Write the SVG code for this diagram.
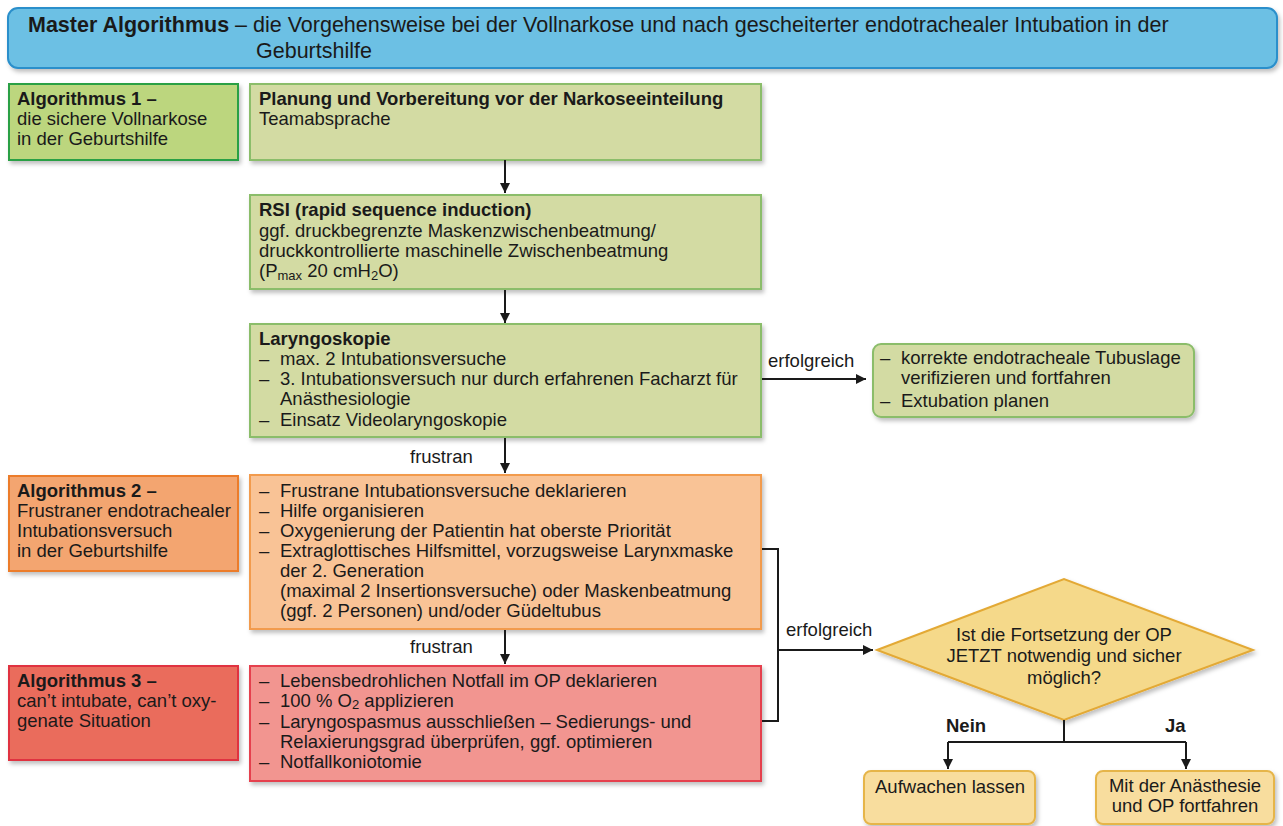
<svg xmlns="http://www.w3.org/2000/svg" width="1283" height="826" viewBox="0 0 1283 826">
<defs>
<filter id="sh" x="-5%" y="-5%" width="110%" height="120%">
<feDropShadow dx="2" dy="3" stdDeviation="2" flood-color="#000" flood-opacity="0.25"/>
</filter>
<marker id="ah" viewBox="0 0 10 10" refX="10" refY="5" markerWidth="10" markerHeight="10" markerUnits="userSpaceOnUse" orient="auto">
<path d="M0,0 L10,5 L0,10 z" fill="#1a1a1a"/>
</marker>
</defs>
<style>
text{font-family:"Liberation Sans",Arial,sans-serif;font-size:18.5px;fill:#1a1a1a}
.b{font-weight:bold}
.t{font-size:21.5px}
.c{text-anchor:middle}
.box{filter:url(#sh);stroke-width:2}
.title{fill:#6cc0e4;stroke:#2b8fcb}
.g1{fill:#bcd67e;stroke:#2aa044}
.g2{fill:#d3dba3;stroke:#8bbd6b}
.o1{fill:#f3a56f;stroke:#ec7b2c}
.o2{fill:#f9c396;stroke:#f29b4d}
.r1{fill:#ea6c5c;stroke:#e03040}
.r2{fill:#f29590;stroke:#e5404e}
.y1{fill:#f5d98a;stroke:#e3a935}
.y2{fill:#f8dd9e;stroke:#e6b54a}
.ln{fill:none;stroke:#1a1a1a;stroke-width:2}
.sub{font-size:13px}
</style>

<g id="title">
<rect class="box title" x="8" y="8" width="1269" height="60" rx="10"/>
<text class="t" x="28" y="32"><tspan class="b">Master Algorithmus</tspan> – die Vorgehensweise bei der Vollnarkose und nach gescheiterter endotrachealer Intubation in der</text>
<text class="t" x="256" y="58">Geburtshilfe</text>
</g>

<g id="alg1">
<rect class="box g1" x="9" y="84" width="229" height="76"/>
<text x="17" y="105" class="b">Algorithmus 1 –</text>
<text x="17" y="125">die sichere Vollnarkose</text>
<text x="17" y="145">in der Geburtshilfe</text>
</g>

<g id="planung">
<rect class="box g2" x="250" y="84" width="511" height="76"/>
<text x="259" y="105" class="b">Planung und Vorbereitung vor der Narkoseeinteilung</text>
<text x="259" y="125">Teamabsprache</text>
</g>

<g id="rsi">
<rect class="box g2" x="250" y="195" width="511" height="94"/>
<text x="259" y="216" class="b">RSI (rapid sequence induction)</text>
<text x="259" y="237">ggf. druckbegrenzte Maskenzwischenbeatmung/</text>
<text x="259" y="257">druckkontrollierte maschinelle Zwischenbeatmung</text>
<text x="259" y="277">(P<tspan class="sub" dy="3">max</tspan><tspan dy="-3"> 20 cmH</tspan><tspan class="sub" dy="3">2</tspan><tspan dy="-3">O)</tspan></text>
</g>

<g id="laryngoskopie">
<rect class="box g2" x="250" y="324" width="511" height="113"/>
<text x="259" y="345" class="b">Laryngoskopie</text>
<text x="259" y="365">–</text><text x="280" y="365">max. 2 Intubationsversuche</text>
<text x="259" y="385">–</text><text x="280" y="385">3. Intubationsversuch nur durch erfahrenen Facharzt für</text>
<text x="280" y="405">Anästhesiologie</text>
<text x="259" y="426">–</text><text x="280" y="426">Einsatz Videolaryngoskopie</text>
</g>

<g id="erfolg1">
<rect class="box g2" x="873" y="344" width="321" height="73" rx="8"/>
<text x="880" y="364">–</text><text x="901" y="364">korrekte endotracheale Tubuslage</text>
<text x="901" y="384">verifizieren und fortfahren</text>
<text x="880" y="407">–</text><text x="901" y="407">Extubation planen</text>
</g>

<g id="alg2">
<rect class="box o1" x="9" y="476" width="229" height="95"/>
<text x="17" y="497" class="b">Algorithmus 2 –</text>
<text x="17" y="517">Frustraner endotrachealer</text>
<text x="17" y="537">Intubationsversuch</text>
<text x="17" y="557">in der Geburtshilfe</text>
</g>

<g id="frustran1">
<rect class="box o2" x="250" y="475" width="511" height="154"/>
<text x="259" y="497">–</text><text x="280" y="497">Frustrane Intubationsversuche deklarieren</text>
<text x="259" y="517">–</text><text x="280" y="517">Hilfe organisieren</text>
<text x="259" y="537">–</text><text x="280" y="537">Oxygenierung der Patientin hat oberste Priorität</text>
<text x="259" y="557">–</text><text x="280" y="557">Extraglottisches Hilfsmittel, vorzugsweise Larynxmaske</text>
<text x="280" y="577">der 2. Generation</text>
<text x="280" y="597">(maximal 2 Insertionsversuche) oder Maskenbeatmung</text>
<text x="280" y="617">(ggf. 2 Personen) und/oder Güdeltubus</text>
</g>

<g id="alg3">
<rect class="box r1" x="9" y="666" width="229" height="94"/>
<text x="17" y="687" class="b">Algorithmus 3 –</text>
<text x="17" y="707">can’t intubate, can’t oxy-</text>
<text x="17" y="727">genate Situation</text>
</g>

<g id="notfall">
<rect class="box r2" x="250" y="666" width="511" height="115"/>
<text x="259" y="687">–</text><text x="280" y="687">Lebensbedrohlichen Notfall im OP deklarieren</text>
<text x="259" y="707">–</text><text x="280" y="707">100 % O<tspan class="sub" dy="2">2</tspan><tspan dy="-2"> applizieren</tspan></text>
<text x="259" y="728">–</text><text x="280" y="728">Laryngospasmus ausschließen – Sedierungs- und</text>
<text x="280" y="748">Relaxierungsgrad überprüfen, ggf. optimieren</text>
<text x="259" y="768">–</text><text x="280" y="768">Notfallkoniotomie</text>
</g>

<g id="entscheidung">
<polygon class="box y1" points="877,650 1064,579 1253,650 1064,720"/>
<text class="c" x="1064" y="641">Ist die Fortsetzung der OP</text>
<text class="c" x="1064" y="662">JETZT notwendig und sicher</text>
<text class="c" x="1064" y="684">möglich?</text>
</g>

<g id="aufwachen">
<rect class="box y2" x="864" y="771" width="171" height="53" rx="7"/>
<text x="875" y="793">Aufwachen lassen</text>
</g>

<g id="fortfahren">
<rect class="box y2" x="1096" y="771" width="178" height="53" rx="7"/>
<text class="c" x="1185" y="792">Mit der Anästhesie</text>
<text class="c" x="1185" y="812">und OP fortfahren</text>
</g>

<g id="connectors">
<line class="ln" x1="505" y1="160" x2="505" y2="193" marker-end="url(#ah)"/>
<line class="ln" x1="505" y1="290" x2="505" y2="323" marker-end="url(#ah)"/>
<line class="ln" x1="505" y1="438" x2="505" y2="473" marker-end="url(#ah)"/>
<text x="410" y="463">frustran</text>
<line class="ln" x1="762" y1="379" x2="866" y2="379" marker-end="url(#ah)"/>
<text x="768" y="367">erfolgreich</text>
<line class="ln" x1="505" y1="630" x2="505" y2="664" marker-end="url(#ah)"/>
<text x="410" y="653">frustran</text>
<polyline class="ln" points="762,549 778,549 778,721 762,721"/>
<line class="ln" x1="778" y1="650" x2="873" y2="650" marker-end="url(#ah)"/>
<text x="786" y="636">erfolgreich</text>
<polyline class="ln" points="1064,720 1064,742"/>
<polyline class="ln" points="948,742 1186,742"/>
<line class="ln" x1="948" y1="742" x2="948" y2="769" marker-end="url(#ah)"/>
<line class="ln" x1="1186" y1="742" x2="1186" y2="769" marker-end="url(#ah)"/>
<text class="b" x="946" y="732">Nein</text>
<text class="b" x="1165" y="732">Ja</text>
</g>
</svg>
